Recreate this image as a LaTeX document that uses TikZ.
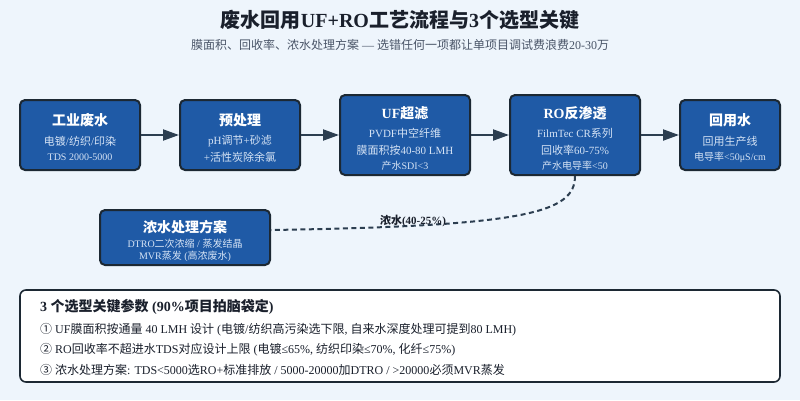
\documentclass[tikz,border=0pt]{standalone}
\usepackage{fontspec}
\setmainfont{Liberation Serif}
\newfontfamily\cjk{Noto Sans CJK SC}
\usetikzlibrary{arrows.meta}
% automatic switch between Latin and CJK fonts
\newXeTeXintercharclass\CJKcls
\makeatletter
\def\setcjkrange#1#2{\count@=#1\relax
  \loop\XeTeXcharclass\count@=\CJKcls\relax
  \ifnum\count@<#2\advance\count@ by 1\relax\repeat}
\makeatother
\setcjkrange{"4E00}{"9FFF}
\setcjkrange{"3000}{"303F}
\setcjkrange{"FF00}{"FFEF}
\setcjkrange{"2460}{"24FF}
\XeTeXinterchartoks 0 \CJKcls = {\cjk}
\XeTeXinterchartoks 4095 \CJKcls = {\cjk}
\XeTeXinterchartoks \CJKcls 0 = {\rmfamily}
\XeTeXinterchartoks \CJKcls 4095 = {\rmfamily}
\XeTeXinterchartokenstate=1

\definecolor{bg}{HTML}{EEF5FC}
\definecolor{boxfill}{HTML}{1F5AA6}
\definecolor{boxline}{HTML}{1C2833}
\definecolor{arr}{HTML}{2C3E50}
\definecolor{subtxt}{HTML}{D5E3F5}
\definecolor{ttl}{HTML}{1A202C}
\definecolor{subg}{HTML}{4A5568}

\tikzset{
  box/.style={draw=boxline, fill=boxfill, line width=2pt, rounded corners=5pt, inner sep=0pt},
  hd/.style={text=white, font=\fontsize{14}{16}\selectfont\bfseries, inner sep=0pt},
  ln/.style={text=subtxt, font=\fontsize{11}{13}\selectfont, inner sep=0pt},
  lns/.style={text=subtxt, font=\fontsize{10}{12}\selectfont, inner sep=0pt},
  flow/.style={draw=arr, line width=2pt, -{Triangle[length=16pt,width=11pt]}},
  conc/.style={draw=arr, line width=2pt, dash pattern=on 5pt off 3.5pt},
  panel/.style={draw=boxline, fill=white, line width=1.6pt, rounded corners=6pt, inner sep=0pt},
  item/.style={text=ttl, font=\fontsize{12}{14}\selectfont, inner sep=0pt, anchor=west},
}

\begin{document}
\begin{tikzpicture}[x=1pt,y=-1pt]
\fill[bg] (0,0) rectangle (800,400);
\useasboundingbox (0,0) rectangle (800,400);

\node[text=ttl, font=\fontsize{20}{24}\selectfont\bfseries, inner sep=0pt] (title) at (400,20) {废水回用UF+RO工艺流程与3个选型关键};
\node[text=subg, font=\fontsize{12}{14}\selectfont, inner sep=0pt] (subtitle) at (400,45) {膜面积、回收率、浓水处理方案 — 选错任何一项都让单项目调试费浪费20-30万};

% boxes
\node[box, minimum width=120pt, minimum height=70pt] (b1) at (80,135) {};
\node[box, minimum width=120pt, minimum height=70pt] (b2) at (240,135) {};
\node[box, minimum width=130pt, minimum height=80pt] (b3) at (405,135) {};
\node[box, minimum width=130pt, minimum height=80pt] (b4) at (575,135) {};
\node[box, minimum width=100pt, minimum height=70pt] (b5) at (730,135) {};
\node[box, minimum width=170pt, minimum height=55pt] (b6) at (185,237.5) {};

% box texts
\node[hd] (b1t) at (80,120) {工业废水};
\node[ln] (b1a) at (80,141) {电镀/纺织/印染};
\node[lns] (b1b) at (80,157) {TDS 2000-5000};

\node[hd] (b2t) at (240,120) {预处理};
\node[ln] (b2a) at (240,141) {pH调节+砂滤};
\node[ln] (b2b) at (240,157) {+活性炭除余氯};

\node[hd] (b3t) at (405,113) {UF超滤};
\node[ln] (b3a) at (405,133) {PVDF中空纤维};
\node[ln] (b3b) at (405,150) {膜面积按40-80 LMH};
\node[lns] (b3c) at (405,166) {产水SDI<3};

\node[hd] (b4t) at (575,113) {RO反渗透};
\node[ln] (b4a) at (575,133) {FilmTec CR系列};
\node[ln] (b4b) at (575,150) {回收率60-75\%};
\node[lns] (b4c) at (575,166) {产水电导率<50};

\node[hd] (b5t) at (730,120) {回用水};
\node[ln] (b5a) at (730,141) {回用生产线};
\node[lns] (b5b) at (730,157) {电导率<50μS/cm};

\node[hd] (b6t) at (185,227) {浓水处理方案};
\node[lns] (b6a) at (185,244) {DTRO二次浓缩 / 蒸发结晶};
\node[lns] (b6b) at (185,256) {MVR蒸发 (高浓废水)};

% connectors
\draw[flow] (b1.east) -- (b2.west);
\draw[flow] (b2.east) -- (b3.west);
\draw[flow] (b3.east) -- (b4.west);
\draw[flow] (b4.east) -- (b5.west);
\draw[conc] (b4.south) .. controls (575,213) and (525,226) .. ([yshift=7.5pt]b6.east);
\node[text=ttl, font=\fontsize{11}{13}\selectfont\bfseries, inner sep=0pt] (conclbl) at (413,221) {浓水(40-25\%)};

% bottom panel
\node[panel, minimum width=760pt, minimum height=92pt] (p) at (400,336) {};
\node[item, font=\fontsize{14}{16}\selectfont\bfseries] (pt) at (40,307) {3 个选型关键参数 (90\%项目拍脑袋定)};
\node[item] (p1) at (40,330) {① UF膜面积按通量 40 LMH 设计 (电镀/纺织高污染选下限, 自来水深度处理可提到80 LMH)};
\node[item] (p2) at (40,350) {② RO回收率不超进水TDS对应设计上限 (电镀≤65\%, 纺织印染≤70\%, 化纤≤75\%)};
\node[item] (p3) at (40,370) {③ 浓水处理方案: TDS<5000选RO+标准排放 / 5000-20000加DTRO / >20000必须MVR蒸发};
\end{tikzpicture}
\end{document}
